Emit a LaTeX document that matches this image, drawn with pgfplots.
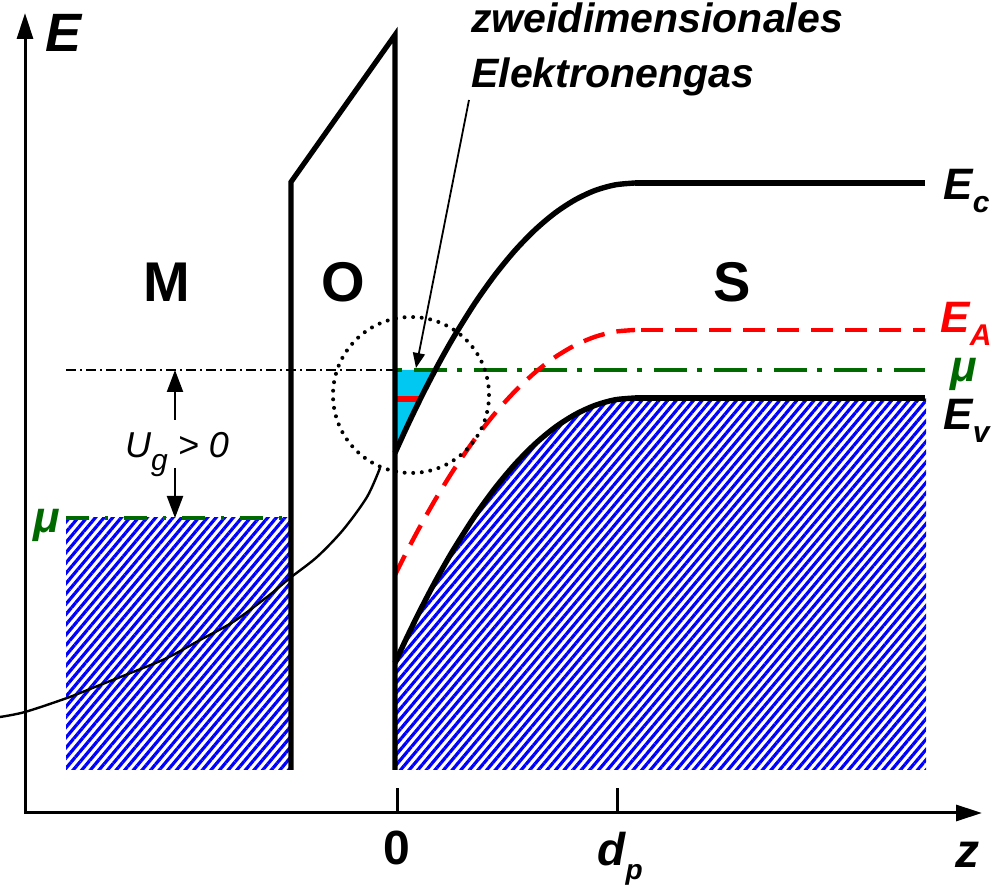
\documentclass[border=0pt]{standalone}
\usepackage{pgfplots}
\pgfplotsset{compat=1.18}
\usepackage{fontspec}
\setmainfont{Liberation Sans}
\usetikzlibrary{arrows.meta,patterns.meta}
\newcommand{\fs}[1]{\fontsize{#1}{#1}\selectfont}
\definecolor{dgreen}{RGB}{0,105,0}
\definecolor{cyanfill}{RGB}{0,200,240}
\begin{document}
\begin{tikzpicture}
\begin{axis}[name=ax, at={(0,0)}, anchor=south west, scale only axis,
  width=501.5pt, height=444pt, xmin=0, xmax=1003, ymin=0, ymax=888,
  hide axis, clip=false]

% hatched metal
\addplot[draw=none, pattern={Lines[angle=50,distance=3.3pt,line width=1.6pt]}, pattern color=blue]
  coordinates {(66,118) (291,118) (291,370) (66,370)};
% hatched semiconductor valence band
\addplot[draw=none, pattern={Lines[angle=50,distance=3.3pt,line width=1.6pt]}, pattern color=blue]
  coordinates {(395,225) (405,246.6) (415,267.3) (425,287.1) (435,306.0) (445,323.9) (455,340.9)
   (475,372.2) (495,399.8) (515,423.75) (535,444.0) (555,460.6) (575,473.4) (595,482.6)
   (615,488.2) (635,490) (926,490) (926,118) (395,118)};
% 2DEG cyan
\addplot[draw=none, fill=cyanfill]
  coordinates {(395,518) (435,518) (425,498.3) (415,478.1) (405,457) (395,435)};
% red level in 2DEG
\addplot[red, line width=3pt] coordinates {(395,489) (421,489)};

% thin curve
\addplot[black, line width=1.2pt, smooth] coordinates {(0,171) (25,176) (67,190) (100,203) (133,216)
  (167,230) (200,248) (233,266) (267,291) (290,310) (317,331) (343,358) (367,391) (380,420)};

% dash-dot reference line
\addplot[black, line width=1.3pt, dash pattern=on 5pt off 2pt on 1pt off 2pt] coordinates {(66,518) (395,518)};
% mu metal
\addplot[dgreen, line width=2.3pt, dash pattern=on 11.5pt off 8pt on 1.5pt off 8pt] coordinates {(66,370) (291,370)};
% mu semiconductor
\addplot[dgreen, line width=2.3pt, dash pattern=on 2.5pt off 6pt on 16.5pt off 5pt] coordinates {(397,518) (925,518)};

% E_A dashed
\addplot[red, line width=2.2pt, dash pattern=on 11pt off 6pt, smooth] coordinates {(395,313) (405,333) (415,352.1)
  (425,370.4) (435,387.9) (445,404.4) (455,420.2) (475,449.1) (495,474.6) (515,496.75) (535,515.5)
  (555,530.8) (575,542.7) (595,551.2) (615,556.3) (635,558)};
\addplot[red, line width=2.2pt, dash pattern=on 11pt off 6pt] coordinates {(641,558) (925,558)};

% E_c
\addplot[black, line width=2.7pt, smooth] coordinates {(395,435) (405,457) (415,478.1) (425,498.3)
  (435,517.5) (445,535.8) (455,553.1) (475,585) (495,613.1) (515,637.5) (535,658.1) (555,675)
  (575,688.1) (595,697.5) (615,703.1) (635,705)};
\addplot[black, line width=2.7pt] coordinates {(635,705) (925,705)};
% E_v
\addplot[black, line width=2.7pt, smooth] coordinates {(395,225) (405,246.6) (415,267.3) (425,287.1)
  (435,306.0) (445,323.9) (455,340.9) (475,372.2) (495,399.8) (515,423.75) (535,444.0) (555,460.6)
  (575,473.4) (595,482.6) (615,488.2) (635,490)};
\addplot[black, line width=2.7pt] coordinates {(635,490) (925,490)};

% oxide
\addplot[black, line width=2.6pt] coordinates {(291,118) (291,706) (395,853) (395,118)};

% dotted circle
\addplot[only marks, mark=o, mark size=39pt,
  mark options={black, line width=2pt, dash pattern=on 0pt off 4.3pt, line cap=round}]
  coordinates {(411,493)};

% annotation arrow
\addplot[black, line width=0.9pt, -{Triangle[length=7.5pt,width=6pt]}] coordinates {(469,788) (416,520)};

% U_g arrows
\addplot[black, line width=1.1pt, -{Triangle[length=11pt,width=8pt]}] coordinates {(175,468) (175,518)};
\addplot[black, line width=1.1pt, -{Triangle[length=11pt,width=8pt]}] coordinates {(175,420) (175,370)};

% axes
\addplot[black, line width=1.5pt, {Triangle[length=13pt,width=8pt]}-{Triangle[length=13pt,width=8pt]}]
  coordinates {(25,875) (25,75) (982,75)};
\addplot[black, line width=1.5pt] coordinates {(397,75) (397,100)};
\addplot[black, line width=1.5pt] coordinates {(617,75) (617,100)};

% labels
\node[anchor=base west, inner sep=0pt, font=\fs{27pt}\bfseries\itshape] at (axis cs:45,836) {E};
\node[anchor=base west, inner sep=0pt, font=\fs{20.5pt}\bfseries\itshape] at (axis cs:471,855) {zweidimensionales};
\node[anchor=base west, inner sep=0pt, font=\fs{20.5pt}\bfseries\itshape] at (axis cs:471,800) {Elektronengas};
\node[anchor=base, inner sep=0pt, font=\fs{28pt}\bfseries] at (axis cs:167,586) {M};
\node[anchor=base, inner sep=0pt, font=\fs{28pt}\bfseries] at (axis cs:343,586) {O};
\node[anchor=base, inner sep=0pt, font=\fs{28pt}\bfseries] at (axis cs:732,586) {S};
\node[anchor=base, inner sep=0pt, font=\fs{24pt}\bfseries] at (axis cs:397,23) {0};
\node[anchor=base west, inner sep=0pt, font=\fs{23pt}\bfseries\itshape] at (axis cs:597,22) {d\raisebox{-7pt}{\fs{14pt}p}};
\node[anchor=base west, inner sep=0pt, font=\fs{24pt}\bfseries\itshape] at (axis cs:955,20) {z};
\node[anchor=base west, inner sep=0pt, font=\fs{22pt}\bfseries\itshape, text=dgreen] at (axis cs:33,355) {μ};
\node[anchor=base, inner sep=0pt, font=\fs{18pt}\itshape] at (axis cs:177,430) {U\raisebox{-6.5pt}{\fs{15pt}g} {>} 0};
\node[anchor=base west, inner sep=0pt, font=\fs{22pt}\bfseries\itshape] at (axis cs:943,688) {E\raisebox{-6.5pt}{\fs{15pt}c}};
\node[anchor=base west, inner sep=0pt, font=\fs{22pt}\bfseries\itshape, text=red] at (axis cs:940,555) {E\raisebox{-6.5pt}{\fs{15pt}A}};
\node[anchor=base west, inner sep=0pt, font=\fs{22pt}\bfseries\itshape, text=dgreen] at (axis cs:950,506) {μ};
\node[anchor=base west, inner sep=0pt, font=\fs{22pt}\bfseries\itshape] at (axis cs:943,458) {E\raisebox{-6.5pt}{\fs{15pt}v}};
\end{axis}
\pgfresetboundingbox
\path (ax.south west) rectangle (ax.north east);
\end{tikzpicture}
\end{document}
